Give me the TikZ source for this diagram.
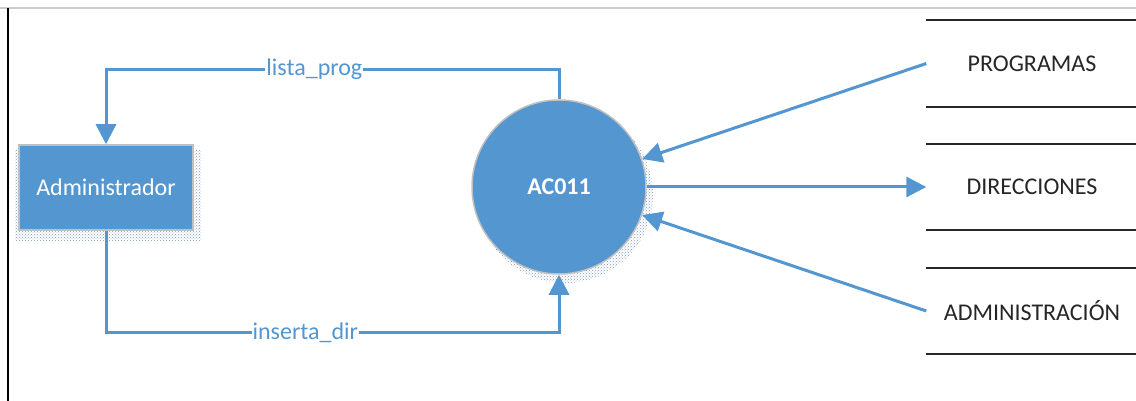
\documentclass[tikz,border=0pt]{standalone}
\usepackage{fontspec}
\setmainfont{Carlito}
\usetikzlibrary{arrows.meta,patterns}
\definecolor{dfdblue}{RGB}{83,150,208}
\definecolor{edgegray}{RGB}{192,192,192}
\definecolor{shadowdot}{RGB}{125,155,190}

\tikzset{
  flow/.style={draw=dfdblue, line width=3pt, -{Triangle[width=20pt,length=20pt]}},
  entity/.style={rectangle, fill=dfdblue, draw=edgegray, line width=1.5pt, minimum width=174pt, minimum height=85pt, text=white, font=\fontsize{24}{28}\selectfont},
  process/.style={circle, fill=dfdblue, draw=edgegray, line width=1.5pt, minimum size=174pt, text=white, font=\fontsize{24}{28}\selectfont\bfseries},
  store/.style={minimum width=211pt, minimum height=86pt, inner sep=0pt, text=black!85, font=\fontsize{24}{28}\selectfont},
  storeline/.style={black!85, line width=2pt},
  flowlabel/.style={fill=white, inner sep=1pt, text=dfdblue, font=\fontsize{24}{28}\selectfont},
  dotshadow/.style={pattern=crosshatch dots, pattern color=shadowdot}
}

\begin{document}
\begin{tikzpicture}[x=1pt,y=-1pt]
    \useasboundingbox (0,0) rectangle (1136,401);
    \draw[gray!40, line width=1.5pt] (0,8) -- (1136,8);
    \draw[black, line width=1.5pt] (8,8) -- (8,401);

    % shadows
    \fill[dotshadow] (15,150) rectangle (201,240);
    \fill[dotshadow] (565,195) circle (88);

    \node[entity] (admin) at (106,187.5) {Administrador};
    \node[process] (ac) at (559,187) {AC011};

    % data stores
    \node[store] (prog) at (1032,63.5) {PROGRAMAS};
    \node[store] (dir) at (1032,187) {DIRECCIONES};
    \node[store] (stadmin) at (1032,311) {ADMINISTRACIÓN};
    \foreach \s in {prog,dir,stadmin} {
        \draw[storeline] (\s.north west) -- (\s.north east);
        \draw[storeline] (\s.south west) -- (\s.south east);
    }

    % flows
    \draw[flow] (ac.north) -- ++(0,-30) -| node[flowlabel,pos=0.27] {lista\_prog} (admin.north);
    \draw[flow] (admin.south) -- ++(0,102) -| node[flowlabel,pos=0.22] {inserta\_dir} (ac.south);
    \draw[flow] (prog.west) -- (ac);
    \draw[flow] (ac) -- (dir.west);
    \draw[flow] (stadmin.west) -- (ac);
\end{tikzpicture}
\end{document}
